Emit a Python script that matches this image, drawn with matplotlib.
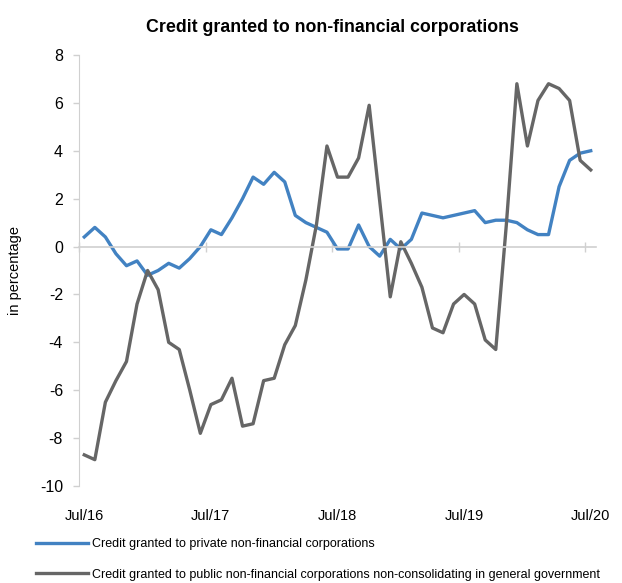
import numpy as np
import matplotlib
matplotlib.use("Agg")
import matplotlib.pyplot as plt
from matplotlib.transforms import blended_transform_factory

plt.rcParams["font.family"] = ["Liberation Sans", "DejaVu Sans"]
plt.rcParams["axes.unicode_minus"] = False

# monthly data, Jul/16 .. Jul/20
private = [0.4, 0.8, 0.4, -0.3, -0.8, -0.6, -1.2, -1.0, -0.7, -0.9, -0.5, 0.0,
           0.7, 0.5, 1.2, 2.0, 2.9, 2.6, 3.1, 2.7, 1.3, 1.0, 0.8, 0.6,
           -0.1, -0.1, 0.9, 0.0, -0.4, 0.3, -0.1, 0.3, 1.4, 1.3, 1.2, 1.3,
           1.4, 1.5, 1.0, 1.1, 1.1, 1.0, 0.7, 0.5, 0.5, 2.5, 3.6, 3.9, 4.0]
public = [-8.7, -8.9, -6.5, -5.6, -4.8, -2.4, -1.0, -1.8, -4.0, -4.3, -6.0, -7.8,
          -6.6, -6.4, -5.5, -7.5, -7.4, -5.6, -5.5, -4.1, -3.3, -1.4, 0.9, 4.2,
          2.9, 2.9, 3.7, 5.9, 1.9, -2.1, 0.2, -0.7, -1.7, -3.4, -3.6, -2.4,
          -2.0, -2.4, -3.9, -4.3, 0.9, 6.8, 4.2, 6.1, 6.8, 6.6, 6.1, 3.6, 3.2]
tick_labels = ["Jul/16", "Jul/17", "Jul/18", "Jul/19", "Jul/20"]
series_names = ["Credit granted to private non-financial corporations",
                "Credit granted to public non-financial corporations non-consolidating in general government"]

W, H = 622, 583
fig = plt.figure(figsize=(W / 100, H / 100), dpi=100)
ax = fig.add_axes([79 / W, 1 - 486 / H, 517 / W, 431 / H])

x = np.arange(len(private)) + 0.5
l1, = ax.plot(x, private, color="#4282C2", lw=2.4, solid_joinstyle="round")
l2, = ax.plot(x, public, color="#666666", lw=2.4, solid_joinstyle="round")

ax.set_xlim(0, len(private))
ax.set_ylim(-10, 8)
ax.set_yticks(np.arange(-10, 9, 2))
ax.tick_params(axis="y", length=4.5, width=1, color="#D0D0D0", pad=7, labelsize=11.5)

for s in ["top", "right"]:
    ax.spines[s].set_visible(False)
ax.spines["left"].set_color("#D0D0D0")
ax.spines["bottom"].set_position(("data", 0))
ax.spines["bottom"].set_color("#D0D0D0")
ax.spines["bottom"].set_linewidth(1.2)
ax.set_xticks(np.arange(0, len(private), 12))
ax.tick_params(axis="x", direction="inout", length=7, width=1, color="#D0D0D0", labelbottom=False)

tr = blended_transform_factory(ax.transData, ax.transAxes)
for k, lab in enumerate(tick_labels):
    ax.text(12 * k + 0.5, -30 / 431, lab, transform=tr, ha="center", va="center", fontsize=10.5)

ax.set_ylabel("in percentage", fontsize=10.5)
ax.yaxis.set_label_coords(-57 / 517, 0.5)

fig.text(332 / W, 1 - 28 / H, "Credit granted to non-financial corporations",
         ha="center", va="center", fontsize=12.8, fontweight="bold")

fig.legend([l1, l2], series_names, loc="upper left", bbox_to_anchor=(31 / W, 1 - 533 / H),
           frameon=False, fontsize=9.0, handlelength=4.15, handletextpad=0.3,
           labelspacing=1.5, borderaxespad=0)

fig.savefig("out.png", dpi=100)
